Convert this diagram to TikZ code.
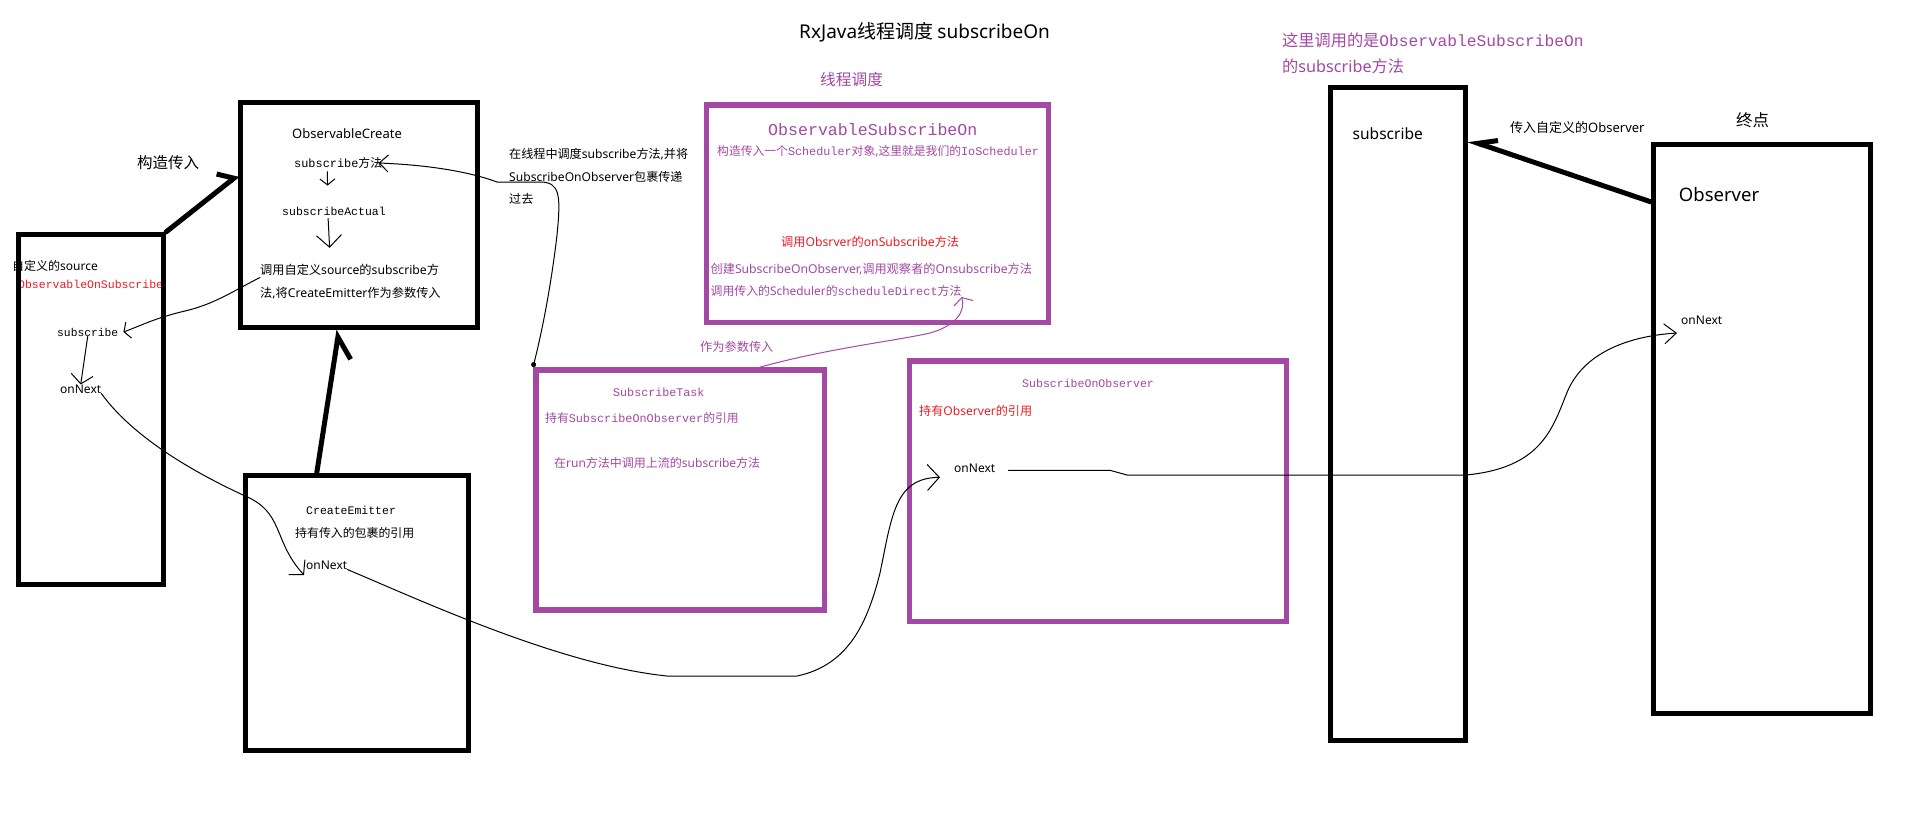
\documentclass[tikz,border=0pt]{standalone}
\usepackage{fontspec}
\setmainfont{Noto Sans}
\newfontfamily\latfont{Noto Sans}
\newfontfamily\cjkfont{Noto Sans CJK SC}
\newfontfamily\mono{Liberation Mono}
\usetikzlibrary{arrows.meta}

\definecolor{paintpurple}{RGB}{163,73,164}
\definecolor{paintred}{RGB}{237,28,36}

\newif\ifincode
\newcommand\code[1]{{\incodetrue\mono #1}}
\newcommand\fsz[1]{\fontsize{#1}{#1}\selectfont}
\newcommand\latsw{\ifincode\else\latfont\fi}

% switch between the Latin and the CJK font inside a text
\XeTeXinterchartokenstate=1
\newXeTeXintercharclass\cjkclass
\makeatletter
\count@="4E00
\loop\XeTeXcharclass\count@=\cjkclass\ifnum\count@<"9FFF\advance\count@ by 1\repeat
\makeatother
\XeTeXinterchartoks 0 \cjkclass = {\cjkfont}
\XeTeXinterchartoks 4095 \cjkclass = {\cjkfont}
\XeTeXinterchartoks \cjkclass 0 = {\latsw}
\XeTeXinterchartoks 4095 0 = {\latsw}

\begin{document}
\begin{tikzpicture}[x=1pt, y=-1pt,
    lbl/.style={inner sep=0pt, anchor=west},
    blackbox/.style={draw=black, line width=5pt, inner sep=0pt},
    purplebox/.style={draw=paintpurple, line width=5.5pt, inner sep=0pt},
    bigarrow/.style={line width=5pt, line cap=round},
    scribble/.style={line width=1pt, line cap=round, line join=round}]
  \fill[white] (0,0) rectangle (1914,828);

  % texts
  \node[lbl, font=\fsz{19}] (title) at (799,32) {RxJava线程调度 subscribeOn};
  \node[lbl, font=\fsz{15.7}, text=paintpurple] (threadtag) at (820,79.5) {线程调度};
  \node[lbl, font=\fsz{15.5}] (ctorin) at (137,163) {构造传入};

  \node[lbl, font=\fsz{13}] (createname) at (292,134) {ObservableCreate};
  \node[lbl, font=\fsz{11.9}] (createsub) at (294,163) {\code{subscribe}方法};
  \node[lbl, font=\fsz{11.5}] (actual) at (282,211) {\code{subscribeActual}};
  \node[lbl, font={\fontsize{12.2}{23}\selectfont}, align=left] (callsrc) at (260,281.5)
    {调用自定义source的subscribe方\\法,将CreateEmitter作为参数传入};

  \node[lbl, font=\fsz{12}] (srcname) at (12,266) {自定义的source};
  \node[lbl, font=\fsz{11.5}, text=paintred] (srcclass) at (18,284) {\code{ObservableOnSubscribe}};
  \node[lbl, font=\fsz{11.3}] (srcsub) at (57,332) {\code{subscribe}};
  \node[lbl, font=\fsz{12}] (srcnext) at (60,389) {onNext};

  \node[lbl, font=\fsz{11.5}] (emitname) at (306,510) {\code{CreateEmitter}};
  \node[lbl, font=\fsz{11.9}] (emitref) at (295,533) {持有传入的包裹的引用};
  \node[lbl, font=\fsz{12}] (emitnext) at (306,565) {onNext};

  \node[lbl, font={\fontsize{12.1}{22.5}\selectfont}, align=left] (dispatch) at (509,176.5)
    {在线程中调度subscribe方法,并将\\SubscribeOnObserver包裹传递\\过去};

  \node[lbl, font=\fsz{16.6}, text=paintpurple] (subonname) at (768,129.3) {\code{ObservableSubscribeOn}};
  \node[lbl, font=\fsz{11.8}, text=paintpurple] (subonctor) at (717,151.7)
    {构造传入一个\code{Scheduler}对象,这里就是我们的\code{IoScheduler}};
  \node[lbl, font=\fsz{12.2}, text=paintred] (subonsubscribe) at (781,241.7) {调用Obsrver的onSubscribe方法};
  \node[lbl, font=\fsz{12.2}, text=paintpurple] (subonnew) at (710.4,269)
    {创建SubscribeOnObserver,调用观察者的Onsubscribe方法};
  \node[lbl, font=\fsz{11.9}, text=paintpurple] (subondirect) at (710.4,291)
    {调用传入的Scheduler的\code{scheduleDirect}方法};
  \node[lbl, font=\fsz{12.2}, text=paintpurple] (asparam) at (700,347.3) {作为参数传入};

  \node[lbl, font=\fsz{11.7}, text=paintpurple] (taskname) at (613,392) {\code{SubscribeTask}};
  \node[lbl, font=\fsz{11.8}, text=paintpurple] (taskref) at (545,418) {持有\code{SubscribeOnObserver}的引用};
  \node[lbl, font=\fsz{12}, text=paintpurple] (taskrun) at (554,463) {在run方法中调用上流的subscribe方法};

  \node[lbl, font=\fsz{11.55}, text=paintpurple] (soobsname) at (1022,383.3) {\code{SubscribeOnObserver}};
  \node[lbl, font=\fsz{12.1}, text=paintred] (soobsref) at (919,410.7) {持有Observer的引用};
  \node[lbl, font=\fsz{12}] (soobsnext) at (954,468.3) {onNext};

  \node[lbl, font={\fontsize{16.2}{25.3}\selectfont}, text=paintpurple, align=left] (callnote) at (1282,53.4)
    {这里调用的是\code{ObservableSubscribeOn}\\的subscribe方法};
  \node[lbl, font=\fsz{15.5}] (subname) at (1352.5,133.3) {subscribe};
  \node[lbl, font=\fsz{13}] (passobs) at (1510,127.3) {传入自定义的Observer};
  \node[lbl, font=\fsz{16.5}] (endtag) at (1736,120.7) {终点};
  \node[lbl, font=\fsz{18.5}] (obsname) at (1678.75,195) {Observer};
  \node[lbl, font=\fsz{12}] (obsnext) at (1681,320) {onNext};

  % boxes
  \node[blackbox, minimum width=145.5pt, minimum height=350pt] (src) at (90.75,409.5) {};
  \node[blackbox, minimum width=237pt, minimum height=225pt] (create) at (359,215) {};
  \node[blackbox, minimum width=222.5pt, minimum height=275.3pt] (emitter) at (356.75,613.1) {};
  \node[purplebox, minimum width=341.6pt, minimum height=217.3pt] (subon) at (877.5,213.7) {};
  \node[purplebox, minimum width=288.9pt, minimum height=240.4pt] (task) at (680.2,490) {};
  \node[purplebox, minimum width=377.2pt, minimum height=260.3pt] (soobs) at (1098,491.2) {};
  \node[blackbox, minimum width=135.5pt, minimum height=652.7pt] (sub) at (1397.75,413.9) {};
  \node[blackbox, minimum width=217pt, minimum height=569.3pt] (obs) at (1762,428.9) {};

  % thick arrows
  \draw[bigarrow, -{Straight Barb[left, length=11pt, width=28pt]}]
    (src.north east) -- ([yshift=40pt]create.west);
  \draw[bigarrow, -{Straight Barb[right, length=20pt, width=32pt]}]
    ([xshift=-40pt]emitter.north) -- ([xshift=-20pt]create.south);
  \draw[bigarrow, -{Straight Barb[right, length=18pt, width=18pt]}]
    ([yshift=227pt]obs.west) -- ([yshift=274pt]sub.east);

  % pencil arrows
  \draw[scribble, -{Straight Barb[length=6pt, width=15pt]}, shorten <=3pt, shorten >=21pt]
    ([xshift=-11pt]createsub.south) -- ([xshift=-6pt]actual.north);
  \draw[scribble, -{Straight Barb[length=12pt, width=25pt]}, shorten <=3pt, shorten >=16pt]
    ([xshift=-6pt]actual.south) -- ([xshift=-20pt]callsrc.north);
  \draw[scribble, -{Straight Barb[length=5pt, width=17pt]}]
    ([yshift=4pt]callsrc.west) .. controls (235,290) and (215,304) .. (185,311)
    .. controls (155,318) and (140,326) .. ([xshift=5pt]srcsub.east);
  \draw[scribble, -{Straight Barb[length=9pt, width=22pt]}] (srcsub.south) -- (srcnext.north);
  \draw[scribble, -{Straight Barb[length=10pt, width=22pt]}]
    (srcnext.south east) .. controls (135,440) and (200,475) .. (243,495)
    .. controls (285,512) and (272,540) .. ([xshift=-2pt, yshift=-10pt]emitnext.west);
  \draw[scribble, -{Straight Barb[length=12pt, width=26pt]}]
    (emitnext.south east) .. controls (420,600) and (560,665) .. (667,676) -- (797,676)
    .. controls (850,665) and (868,620) .. (880,573)
    .. controls (892,515) and (895,478) .. ([xshift=-14pt, yshift=-9pt]soobsnext.west);
  \draw[scribble, -{Straight Barb[length=12pt, width=20pt]}]
    ([xshift=13pt, yshift=-2pt]soobsnext.east) -- (1110,470.3) -- (1127,475) -- (1466,475)
    .. controls (1540,468) and (1552,430) .. (1566,395)
    .. controls (1582,352) and (1630,336) .. ([xshift=-4pt, yshift=-13pt]obsnext.west);
  \draw[scribble, {Circle[length=5pt]}-{Straight Barb[length=9pt, width=17pt]}]
    (task.north west) .. controls (545,320) and (553,270) .. (557,235)
    .. controls (561,195) and (560,182) .. (540,182) -- (497,182)
    .. controls (470,172) and (430,165) .. ([xshift=-4pt]createsub.east);
  \draw[scribble, draw=paintpurple, -{Straight Barb[length=6pt, width=20pt]}]
    ([xshift=80pt]task.north) .. controls (830,348) and (895,341) .. (930,333)
    .. controls (955,326) and (966,312) .. ([yshift=-6pt]subondirect.east);
\end{tikzpicture}
\end{document}
